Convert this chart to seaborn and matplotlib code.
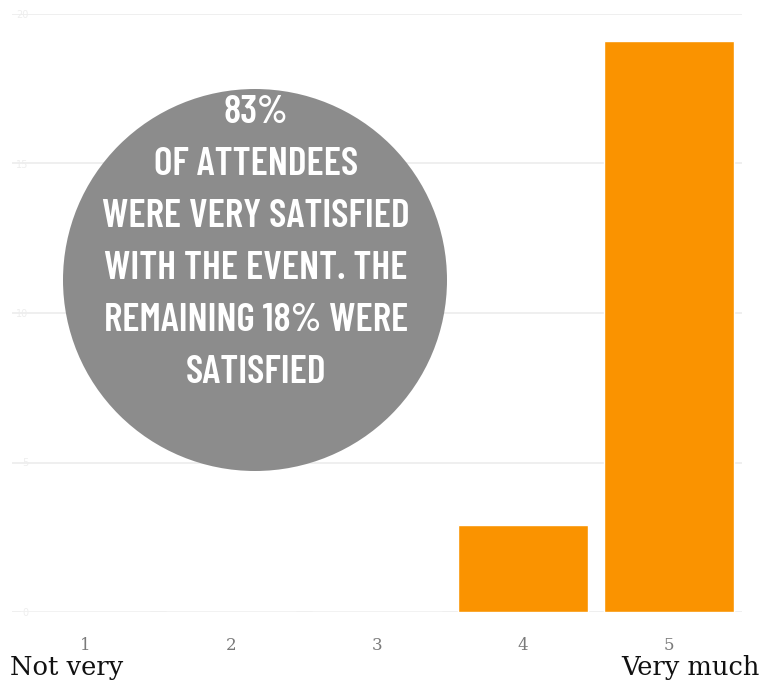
import matplotlib
matplotlib.use("Agg")
import matplotlib.pyplot as plt
import seaborn as sns
import pandas as pd
from matplotlib.patches import Ellipse

categories = ["1", "2", "3", "4", "5"]
counts = [0, 0, 0, 2.9, 19.1]
scale_ends = ["Not very", "Very much"]
callout_lines = ["83%", "OF ATTENDEES", "WERE VERY SATISFIED", "WITH THE EVENT. THE",
                 "REMAINING 18% WERE", "SATISFIED"]

df = pd.DataFrame({"rating": categories, "count": counts})

sns.set_theme(style="white")
fig = plt.figure(figsize=(7.64, 6.84), dpi=100)
W, H = 764, 684
ax = fig.add_axes([12 / W, 1 - 612 / H, (742 - 12) / W, (612 - 14) / H])

sns.barplot(data=df, x="rating", y="count", color="#fa9300", saturation=1,
            width=0.89, ax=ax, zorder=3)
ax.set_ylim(0, 20)
ax.set_yticks([0, 5, 10, 15, 20])
ax.yaxis.grid(True, color="#ececec", lw=1.2, zorder=0)
ax.set_axisbelow(True)
for s in ax.spines.values():
    s.set_visible(False)
ax.set_xlabel("")
ax.set_ylabel("")
ax.tick_params(axis="y", labelsize=7, colors="#eeeeee", length=0, pad=-12)
ax.tick_params(axis="x", labelsize=12, colors="#7a7a7a", length=0, pad=18)
for t in ax.get_xticklabels():
    t.set_family("DejaVu Serif")

fig.text(10 / W, 1 - 668 / H, scale_ends[0], ha="left", va="center",
         family="DejaVu Serif", fontsize=18.5, color="#111111")
fig.text(760 / W, 1 - 668 / H, scale_ends[1], ha="right", va="center",
         family="DejaVu Serif", fontsize=18.5, color="#111111")

circ = Ellipse((255 / W, 1 - 280 / H), 384 / W, 382 / H, transform=fig.transFigure,
               facecolor="#8c8c8c", edgecolor="none", zorder=5)
fig.add_artist(circ)
for i, line in enumerate(callout_lines):
    fig.text(256 / W, 1 - (123 + 52 * i) / H, line, ha="center", va="baseline",
             color="white", fontsize=28.5, fontweight="semibold", zorder=6,
             family=["Barlow Condensed", "DejaVu Sans"])

fig.savefig("out.png", dpi=100)
